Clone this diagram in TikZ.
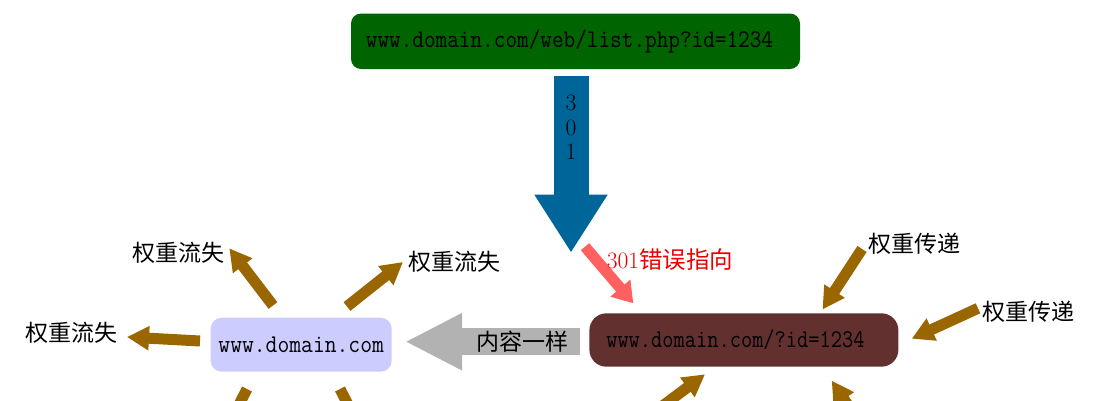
\documentclass[tikz,border=0pt]{standalone}
\usepackage{fontspec}
\usepackage{graphicx}
\newfontfamily\cjk{Noto Sans CJK SC}
\usetikzlibrary{arrows.meta}
\definecolor{boxgreen}{RGB}{0,100,0}
\definecolor{boxbrown}{RGB}{99,48,48}
\definecolor{boxlav}{RGB}{204,204,255}
\definecolor{arrblue}{RGB}{0,102,153}
\definecolor{arrbrown}{RGB}{153,102,0}
\definecolor{arrred}{RGB}{255,96,96}
\definecolor{arrgray}{RGB}{178,178,178}
\definecolor{txtred}{RGB}{235,0,0}
\tikzset{
  urlbox/.style={rounded corners=#1, inner sep=0pt, text=black,
                 font=\ttfamily\fontsize{25.5}{28}\selectfont},
  lbl/.style={font=\cjk\fontsize{23}{26}\selectfont, inner sep=0pt, text=black},
  digit/.style={font=\fontsize{23.5}{26}\selectfont, inner sep=0pt, text=black},
  wtarrow/.style={draw=arrbrown, line width=11pt, -{Triangle[length=22pt,width=23pt]}},
  redarrow/.style={draw=arrred, line width=11pt, -{Triangle[length=20pt,width=25pt]}},
  bluearrow/.style={draw=arrblue, line width=35pt, -{Triangle[length=58pt,width=69pt]}},
  grayarrow/.style={draw=arrgray, line width=27pt, -{Triangle[length=57pt,width=53pt]}}
}
\begin{document}
\begin{tikzpicture}[x=1pt,y=-1pt]
\useasboundingbox (0,0) rectangle (1107,400);
\clip (0,0) rectangle (1107,400);
\fill[white] (0,0) rectangle (1107,400);

% boxes
\node[urlbox=10pt, fill=boxgreen, minimum width=449pt, minimum height=55.5pt] (src) at (575.5,41.25)
      {\scalebox{0.886}[1]{www.domain.com/web/list.php?id=1234}\hspace*{12pt}};
\node[urlbox=17pt, fill=boxbrown, minimum width=309pt, minimum height=53.4pt] (dst) at (743.9,340)
      {\scalebox{0.855}[1]{www.domain.com/?id=1234}\hspace*{17pt}};
\node[urlbox=11pt, fill=boxlav, minimum width=181pt, minimum height=54pt] (home) at (301.2,344.7)
      {\scalebox{0.9}[1]{www.domain.com}};

% labels
\node[lbl] (lossUL) at (178.3,253.3) {权重流失};
\node[lbl] (lossUR) at (454.3,261.7) {权重流失};
\node[lbl] (lossL)  at (71.5,333)    {权重流失};
\node[lbl] (passT)  at (914.3,243.3) {权重传递};
\node[lbl] (passR)  at (1028.3,311.7) {权重传递};

% connector end points
\coordinate (bTail) at (571,76);
\coordinate (bTip)  at (571,252.7);
\coordinate (rTail) at (585,246.7);
\coordinate (rTip)  at (633.3,303.3);
\coordinate (gTail) at (580,341.7);
\coordinate (gTip)  at (405,341.7);

\coordinate (hL)   at (200,341);   \coordinate (hLt)  at (127,337);
\coordinate (hUL)  at (273,305.5); \coordinate (hULt) at (229.3,248.3);
\coordinate (hUR)  at (347,306.5); \coordinate (hURt) at (403,262);
\coordinate (hLL)  at (247,389);   \coordinate (hLLt) at (214,453);
\coordinate (hLR)  at (340,389);   \coordinate (hLRt) at (373,453);

\coordinate (dT)   at (862,249);   \coordinate (dTt)  at (822.5,309.5);
\coordinate (dR)   at (978,308.3); \coordinate (dRt)  at (911.7,338.7);
\coordinate (dBL)  at (647,417.5); \coordinate (dBLt) at (705,374.3);
\coordinate (dBR)  at (871,440);   \coordinate (dBRt) at (831.7,380.7);

% big arrows
\draw[bluearrow] (bTail) -- (bTip);
\draw[grayarrow] (gTail) -- (gTip);
\draw[redarrow] (rTail) -- (rTip);

% weight arrows
\draw[wtarrow] (hL) -- (hLt);
\draw[wtarrow] (hUL) -- (hULt);
\draw[wtarrow] (hUR) -- (hURt);
\draw[wtarrow] (hLL) -- (hLLt);
\draw[wtarrow] (hLR) -- (hLRt);
\draw[wtarrow] (dT) -- (dTt);
\draw[wtarrow] (dR) -- (dRt);
\draw[wtarrow] (dBL) -- (dBLt);
\draw[wtarrow] (dBR) -- (dBRt);

% texts on arrows
\node[digit] (d3) at (571,103.3) {3};
\node[digit] (d0) at (571,128.3) {0};
\node[digit] (d1) at (571,151.7) {1};
\node[lbl] (same) at (522.7,341.7) {内容一样};
\node[inner sep=0pt, text=txtred, font=\fontsize{23.5}{26}\selectfont] (err) at (670,259.3)
      {301{\cjk 错误指向}};
\end{tikzpicture}
\end{document}
